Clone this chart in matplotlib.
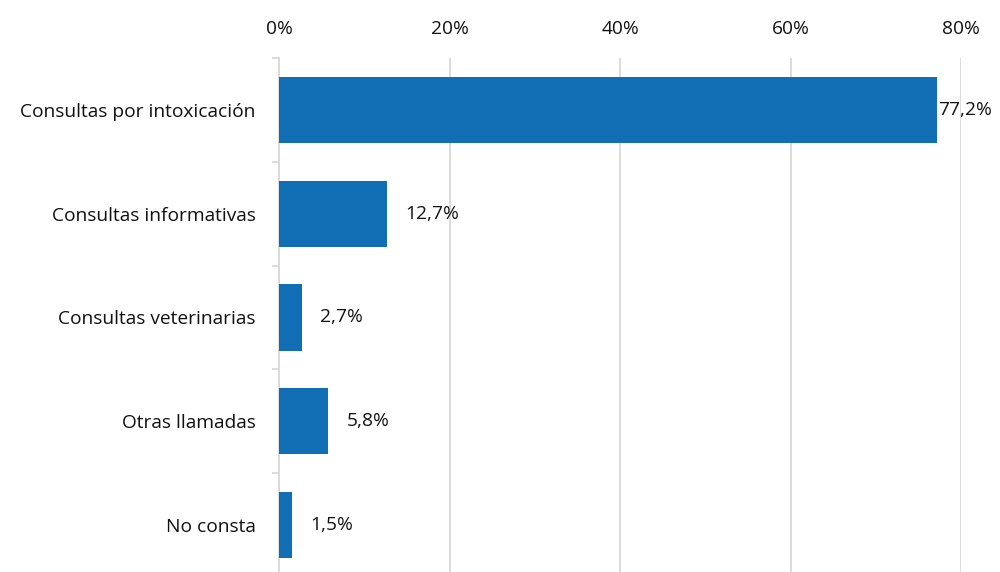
import numpy as np
import matplotlib.pyplot as plt

# Tipos de llamada y porcentaje sobre el total
categorias = ['Consultas por intoxicación', 'Consultas informativas',
              'Consultas veterinarias', 'Otras llamadas', 'No consta']
porcentajes = [77.2, 12.7, 2.7, 5.8, 1.5]
etiquetas = ['77,2%', '12,7%', '2,7%', '5,8%', '1,5%']
ticks_x = [0, 20, 40, 60, 80]

plt.rcParams['font.family'] = ['Open Sans', 'DejaVu Sans']
fs = 13.8

fig = plt.figure(figsize=(10, 5.72), dpi=100)
ax = fig.add_axes([0.279, -0.008, 0.682, 0.906])

y = np.arange(len(categorias))
ax.barh(y, porcentajes, height=0.64, color='#116EB4', zorder=3)

for i, (v, txt) in enumerate(zip(porcentajes, etiquetas)):
    off = 0.5 if v > 70 else 13
    ax.annotate(txt, (v, i), xytext=(off, 0), textcoords='offset points',
                va='center', ha='left', fontsize=fs, color='#111111')

ax.set_xlim(0, 80)
ax.set_ylim(len(categorias) - 0.5, -0.5)
ax.set_xticks(ticks_x)
ax.set_xticklabels([f'{t}%' for t in ticks_x])
ax.xaxis.tick_top()
ax.tick_params(axis='x', length=0, pad=15, labelsize=fs, labelcolor='#111111')
ax.grid(axis='x', color='#D9D9D9', linewidth=1.3, zorder=0)

ax.set_yticks(y)
ax.set_yticklabels(categorias)
ax.tick_params(axis='y', length=0, pad=17, labelsize=fs, labelcolor='#111111')
# marcas cortas entre categorías
ax.set_yticks(np.arange(-0.5, len(categorias) - 0.5), minor=True)
ax.tick_params(axis='y', which='minor', length=5, color='#D9D9D9', width=1.3)

for s in ['top', 'right', 'bottom']:
    ax.spines[s].set_visible(False)
ax.spines['left'].set_color('#D9D9D9')
ax.spines['left'].set_linewidth(1.3)

fig.savefig('out.png', dpi=100)
